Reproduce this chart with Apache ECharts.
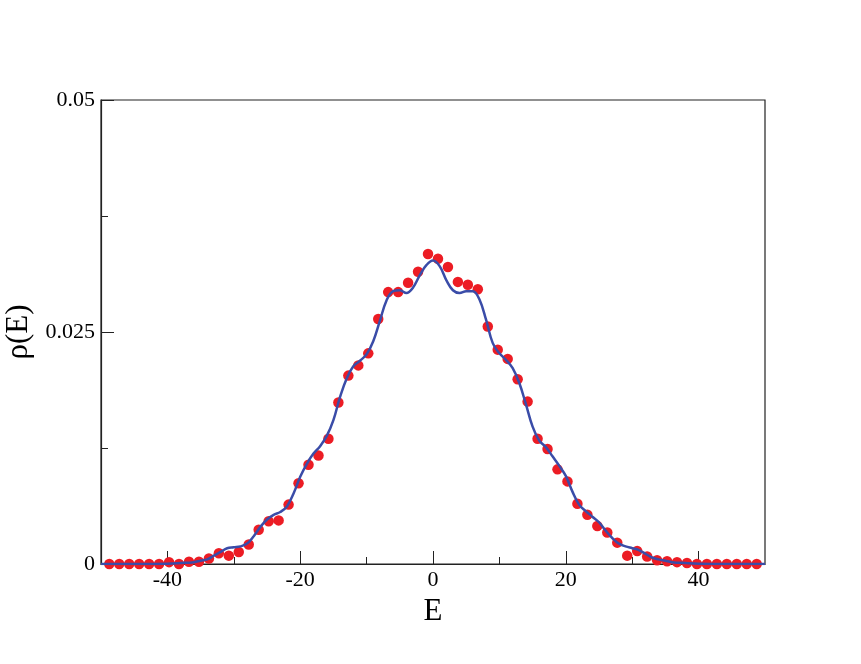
<!DOCTYPE html>
<html>
<head>
<meta charset="utf-8">
<script src="https://cdn.jsdelivr.net/npm/echarts@6/dist/echarts.min.js"></script>
<style>
html,body{margin:0;padding:0;background:#fff;}
#chart{width:861px;height:664px;}
</style>
</head>
<body>
<div id="chart"></div>
<script>
// Scatter (simulation) points
var pointE = [-48.75,-47.25,-45.75,-44.25,-42.75,-41.25,-39.75,-38.25,-36.75,-35.25,
  -33.75,-32.25,-30.75,-29.25,-27.75,-26.25,-24.75,-23.25,-21.75,-20.25,
  -18.75,-17.25,-15.75,-14.25,-12.75,-11.25,-9.75,-8.25,-6.75,-5.25,
  -3.75,-2.25,-0.75,0.75,2.25,3.75,5.25,6.75,8.25,9.75,
  11.25,12.75,14.25,15.75,17.25,18.75,20.25,21.75,23.25,24.75,
  26.25,27.75,29.25,30.75,32.25,33.75,35.25,36.75,38.25,39.75,
  41.25,42.75,44.25,45.75,47.25,48.75];
var pointRho = [0,0,0,0,0,0,0.0002,0,0.00025,0.00025,
  0.0006,0.00115,0.0009,0.0013,0.0021,0.0037,0.0046,0.0047,0.0064,0.0087,
  0.0107,0.0117,0.0135,0.0174,0.0203,0.0214,0.0227,0.0264,0.0293,0.0293,
  0.0303,0.0315,0.0334,0.0329,0.0320,0.0304,0.0301,0.0296,0.0256,0.0231,
  0.0221,0.0199,0.0175,0.0135,0.0124,0.0102,0.0089,0.0065,0.0053,0.0041,
  0.0034,0.0023,0.0009,0.0014,0.0008,0.0004,0.0003,0.0002,0.0001,0,
  0,0,0,0,0,0];

// Smooth (theory) curve
var curveE = [-50,-44,-40,-38,-36,-35,-34,-33,-32,-31,-30,-29,-28,-27,-26,-25,-24,-23,-22,-21,
  -20,-19,-18,-17,-16,-15,-14,-13,-12,-11,-10,-9,-8,-7,-6,-5,-4,-3,-2,-1,
  0,1,2,3,4,5,6,7,8,9,10,11,12,13,14,15,16,17,18,19,
  20,21,22,23,24,25,26,27,28,29,30,31,32,33,34,35,36,38,40,44,50];
var curveRho = [0,0,0.00003,0.0001,0.0002,0.00035,0.0005,0.0009,0.0013,0.0017,0.0018,0.0019,0.0022,0.0030,0.0040,0.0048,0.0053,0.0056,0.0062,0.0076,
  0.0094,0.0108,0.0119,0.0127,0.0138,0.0155,0.0180,0.0200,0.0213,0.0219,0.0226,0.0240,0.0262,0.0284,0.0294,0.0295,0.0292,0.0298,0.0311,0.0322,
  0.0327,0.0321,0.0306,0.0295,0.0292,0.0294,0.0294,0.0285,0.0263,0.0238,0.0227,0.0220,0.0211,0.0195,0.0172,0.0148,0.0133,0.0126,0.0116,0.0106,
  0.0095,0.0078,0.0064,0.0057,0.0051,0.0045,0.0036,0.0028,0.0022,0.0019,0.0017,0.0015,0.0011,0.0007,0.0005,0.00035,0.0002,0.0001,0.00003,0,0];

// Ticks
var xMajorTicks = [-40,-20,0,20,40];
var xMinorTicks = [-30,-10,10,30];
var yMajorTicks = [0,0.025,0.05];
var yMinorTicks = [0.0125,0.0375];

var font = 'Liberation Serif';
var axisColor = '#222';

var scatterData = pointE.map(function(e,i){return [e, pointRho[i]];});
var curveData = curveE.map(function(e,i){return [e, curveRho[i]];});

var chart = echarts.init(document.getElementById('chart'));
chart.setOption({
  animation: false,
  backgroundColor: '#fff',
  grid: {left: 101, right: 96, top: 100, bottom: 100, outerBoundsMode: 'none', containLabel: false,
    show: true, borderColor: axisColor, borderWidth: 1.2, backgroundColor: 'transparent'},
  xAxis: [{
    type: 'value', min: -50, max: 50, position: 'bottom',
    name: 'E', nameLocation: 'middle', nameGap: 25,
    nameTextStyle: {fontFamily: font, fontSize: 31, color: '#000'},
    axisLine: {show: true, onZero: false, lineStyle: {color: axisColor, width: 1.2}},
    axisTick: {show: true, inside: true, length: 13, customValues: xMajorTicks, lineStyle: {color: axisColor, width: 1}},
    axisLabel: {show: true, customValues: xMajorTicks, margin: 5, fontFamily: font, fontSize: 22, color: '#000'},
    splitLine: {show: false}
  },{
    type: 'value', min: -50, max: 50, position: 'bottom',
    axisLine: {show: false, onZero: false},
    axisTick: {show: true, inside: true, length: 7, customValues: xMinorTicks, lineStyle: {color: axisColor, width: 1}},
    axisLabel: {show: false},
    splitLine: {show: false}
  }],
  yAxis: [{
    type: 'value', min: 0, max: 0.05, position: 'left',
    name: 'ρ(E)', nameLocation: 'middle', nameGap: 64, nameRotate: 90,
    nameTextStyle: {fontFamily: font, fontSize: 31, color: '#000'},
    axisLine: {show: true, onZero: false, lineStyle: {color: axisColor, width: 1.2}},
    axisTick: {show: true, inside: true, length: 13, customValues: yMajorTicks, lineStyle: {color: axisColor, width: 1}},
    axisLabel: {show: true, customValues: yMajorTicks, margin: 6, fontFamily: font, fontSize: 22, color: '#000',
      formatter: function(v){ return String(v); }},
    splitLine: {show: false}
  },{
    type: 'value', min: 0, max: 0.05, position: 'left',
    axisLine: {show: false, onZero: false},
    axisTick: {show: true, inside: true, length: 7, customValues: yMinorTicks, lineStyle: {color: axisColor, width: 1}},
    axisLabel: {show: false},
    splitLine: {show: false}
  }],
  series: [{
    type: 'scatter', xAxisIndex: 0, yAxisIndex: 0,
    data: scatterData, symbol: 'circle', symbolSize: 10.5,
    itemStyle: {color: '#ec1c24', opacity: 1},
    z: 2
  },{
    type: 'line', xAxisIndex: 0, yAxisIndex: 0,
    data: curveData, smooth: 0.4, showSymbol: false, symbol: 'none',
    lineStyle: {color: '#3a4ca8', width: 2.5},
    z: 3
  }]
});
</script>
</body>
</html>
